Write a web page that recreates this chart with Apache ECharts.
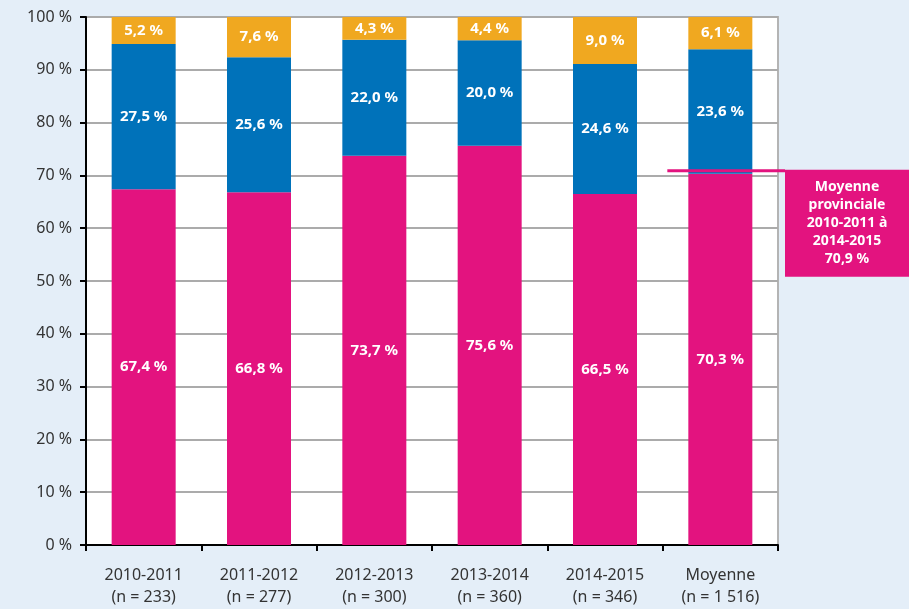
<!DOCTYPE html>
<html>
<head>
<meta charset="utf-8">
<script src="https://cdn.jsdelivr.net/npm/echarts@6/dist/echarts.min.js"></script>
<style>
  html, body { margin: 0; padding: 0; background: #e4eef8; }
  #chart { width: 909px; height: 609px; }
</style>
</head>
<body>
<div id="chart"></div>
<script>
// categories
var annees = ['2010-2011', '2011-2012', '2012-2013', '2013-2014', '2014-2015', 'Moyenne'];
var effectifs = ['233', '277', '300', '360', '346', '1 516'];

// parts (%)
var partRose = [67.4, 66.8, 73.7, 75.6, 66.5, 70.3];
var partBleu = [27.5, 25.6, 22.0, 20.0, 24.6, 23.6];
var partJaune = [5.2, 7.6, 4.3, 4.4, 9.0, 6.1];

// moyenne provinciale
var moyenneProv = 70.9;

var police = '"Noto Sans", sans-serif';

function pct(v) {
	return v.toFixed(1).replace('.', ',') + ' %';
}

function serie(nom, data, couleur) {
	return {
		name: nom,
		type: 'bar',
		stack: 'total',
		barWidth: 64,
		data: data,
		itemStyle: { color: couleur },
		label: {
			show: true,
			position: 'inside',
			color: '#fff',
			fontFamily: police,
			fontWeight: 'bold',
			fontSize: 15,
			formatter: function (p) { return pct(p.value); }
		}
	};
}

var myChart = echarts.init(document.getElementById('chart'));

var option = {
	backgroundColor: '#e4eef8',
	animation: false,
	grid: {
		left: 86,
		right: 131,
		top: 17,
		bottom: 64,
		show: true,
		backgroundColor: '#fff',
		borderColor: '#b4b4b4',
		borderWidth: 2
	},
	xAxis: {
		type: 'category',
		data: annees.map(function (a, i) { return a + '\n(n = ' + effectifs[i] + ')'; }),
		axisLine: { lineStyle: { color: '#000', width: 2 } },
		axisTick: { show: true, length: 6, lineStyle: { color: '#000', width: 2 } },
		axisLabel: {
			color: '#333',
			fontFamily: police,
			fontSize: 16,
			lineHeight: 22,
			margin: 19
		}
	},
	yAxis: {
		type: 'value',
		min: 0,
		max: 100,
		interval: 10,
		axisLine: { show: true, lineStyle: { color: '#000', width: 2 } },
		axisTick: { show: true, length: 6, lineStyle: { color: '#000', width: 2 } },
		splitLine: { lineStyle: { color: '#ababab', width: 2 } },
		axisLabel: {
			color: '#333',
			fontFamily: police,
			fontSize: 16,
			margin: 14,
			formatter: '{value} %'
		}
	},
	series: [
		serie('rose', partRose, '#e3137f'),
		serie('bleu', partBleu, '#0072ba'),
		serie('jaune', partJaune, '#f0a820')
	]
};

myChart.setOption(option);

// ligne et encadré de la moyenne provinciale
var yLigne = myChart.convertToPixel({ yAxisIndex: 0 }, moyenneProv);
var xMoy = myChart.convertToPixel({ xAxisIndex: 0 }, annees.length - 1);
var xBoite = 909 - 131 + 7;

myChart.setOption({
	graphic: [
		{
			type: 'line',
			z: 100,
			shape: { x1: xMoy - 53, y1: yLigne, x2: xBoite, y2: yLigne },
			style: { stroke: '#e3137f', lineWidth: 3 }
		},
		{
			type: 'rect',
			z: 100,
			shape: { x: xBoite, y: yLigne - 1, width: 124, height: 107 },
			style: { fill: '#e3137f' }
		},
		{
			type: 'text',
			z: 101,
			x: xBoite + 62,
			y: yLigne + 52,
			style: {
				text: 'Moyenne\nprovinciale\n2010-2011 à\n2014-2015\n' + pct(moyenneProv),
				fill: '#fff',
				font: 'bold 14px "Noto Sans", sans-serif',
				lineHeight: 18,
				align: 'center',
				verticalAlign: 'middle'
			}
		}
	]
});
</script>
</body>
</html>
